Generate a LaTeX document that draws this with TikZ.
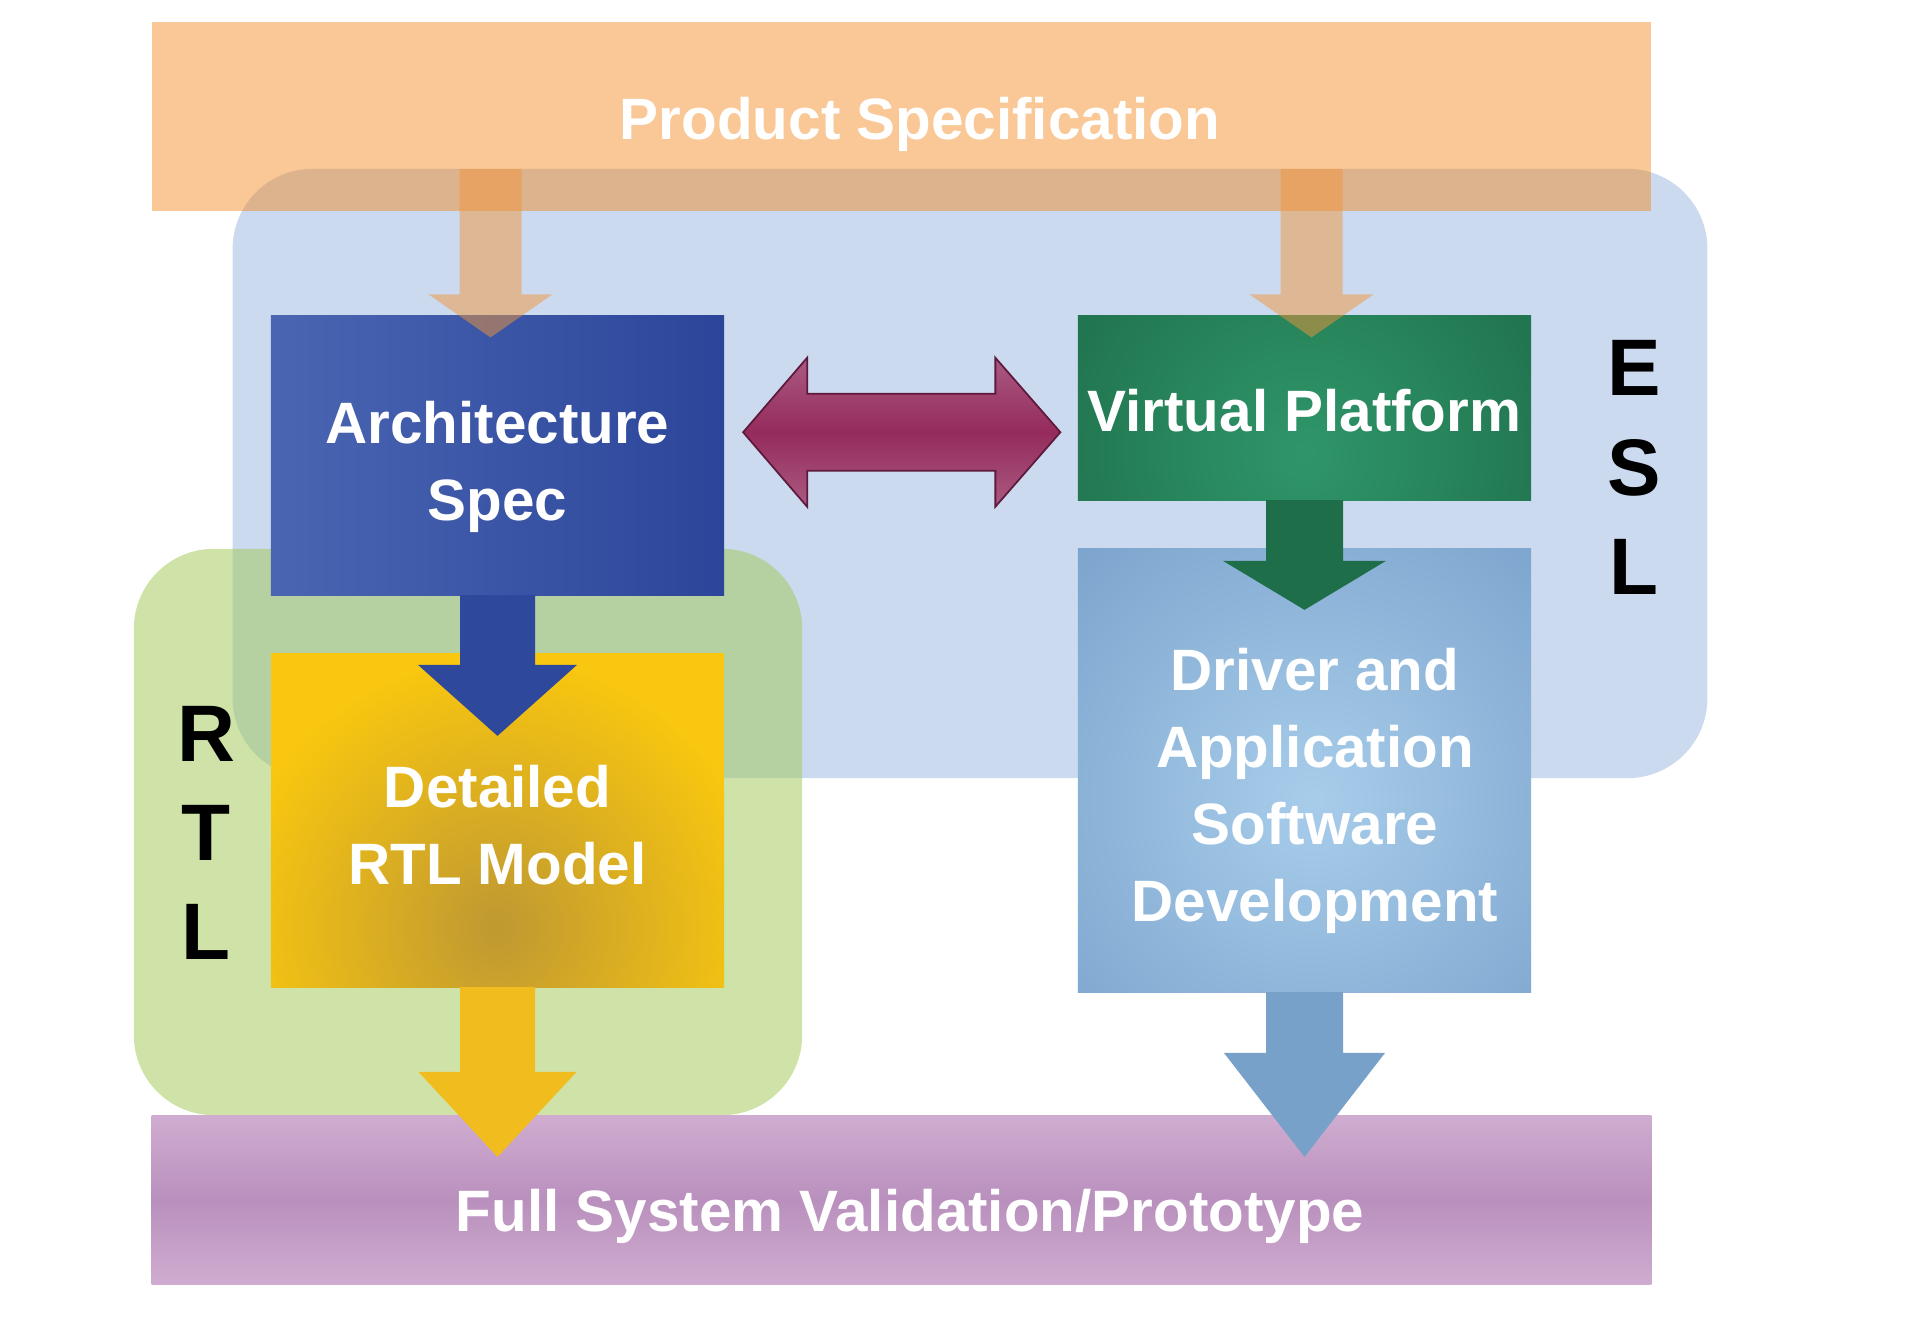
\documentclass[tikz,border=0pt]{standalone}
\usepackage{fontspec}
\setmainfont{Liberation Sans}
\usetikzlibrary{calc,positioning}

\definecolor{eslblue}{HTML}{CCDAF0}
\definecolor{rtlgreen}{HTML}{A4CA5B}
\definecolor{specorange}{HTML}{F28516}
\definecolor{feedorange}{HTML}{F0953A}
\definecolor{archlight}{HTML}{4A66B2}
\definecolor{archdark}{HTML}{2C459A}
\definecolor{archarrow}{HTML}{2E489C}
\definecolor{rtlyellow}{HTML}{F9C70F}
\definecolor{rtldark}{HTML}{BF9832}
\definecolor{rtlarrow}{HTML}{F1BD1E}
\definecolor{vpgreen}{HTML}{1C6A47}
\definecolor{vplight}{HTML}{2F9669}
\definecolor{vparrow}{HTML}{1E6F49}
\definecolor{swblue}{HTML}{739BC6}
\definecolor{swlight}{HTML}{A8CDEB}
\definecolor{swarrow}{HTML}{78A1CA}
\definecolor{linklight}{HTML}{AA5A82}
\definecolor{linkdark}{HTML}{952B5C}
\definecolor{linkedge}{HTML}{5E1A3D}
\definecolor{vallight}{HTML}{CFACD0}
\definecolor{valdark}{HTML}{B990BD}

% down block arrow: style, from, tip, shaft half width, head half width, head length
\newcommand{\downblock}[6]{%
  \fill[#1] ($(#2)+(-#4,0)$) -- ($(#2)+(#4,0)$) -- ($(#3)+(#4,-#6)$) -- ($(#3)+(#5,-#6)$)
    -- (#3) -- ($(#3)+(-#5,-#6)$) -- ($(#3)+(-#4,-#6)$) -- cycle;}

\begin{document}
\begin{tikzpicture}[x=0.01cm, y=-0.01cm,
    every node/.style={inner sep=0pt, outer sep=0pt},
    region/.style={rounded corners=0.8cm},
    bar/.style={minimum width=14.99cm},
    block/.style={minimum width=4.53cm},
    boxtext/.style={text=white, font=\fontsize{16.6pt}{21.9pt}\selectfont\bfseries, align=center},
    sidetext/.style={font=\fontsize{22.8pt}{28.2pt}\selectfont\bfseries, align=center}]

    \useasboundingbox (0,0) rectangle (1920,1328);

    % regions
    \node[region, fill=eslblue, minimum width=14.74cm, minimum height=6.09cm] (esl) at (970,473.5) {};
    \node[region, fill=rtlgreen, fill opacity=0.53, minimum width=6.68cm, minimum height=5.66cm] (rtl) at (468,832) {};

    % bars
    \node[bar, fill=specorange, fill opacity=0.45, minimum height=1.89cm] (prod) at (901.5,116.5) {};
    \node[bar, top color=vallight, bottom color=vallight, middle color=valdark, minimum height=1.68cm] (full) at (901.5,1200) {};

    % blocks
    \node[block, minimum height=2.795cm, left color=archlight, right color=archdark] (arch) at (497.5,455.25) {};
    \node[block, minimum height=3.34cm, fill=rtlyellow,
        path picture={\shade[inner color=rtldark, outer color=rtlyellow] ($(path picture bounding box.center)+(0,112)$) circle (2.7cm);}] (rtlm) at (497.5,820) {};
    \node[block, minimum height=1.845cm, fill=vpgreen,
        path picture={\shade[inner color=vplight, outer color=vpgreen] ($(path picture bounding box.center)+(0,45)$) circle (3.4cm);}] (vp) at (1304.5,407.75) {};
    \node[block, minimum height=4.435cm, fill=swblue,
        path picture={\shade[inner color=swlight, outer color=swblue] ($(path picture bounding box.center)+(8,30)$) circle (4.2cm);}] (drv) at (1304.5,770.25) {};

    \coordinate (specL) at ($(esl.north -| arch.north)+(-7,0)$);
    \coordinate (specLtip) at ($(arch.north)+(-7,22)$);
    \coordinate (specR) at ($(esl.north -| vp.north)+(7,0)$);
    \coordinate (specRtip) at ($(vp.north)+(7,22)$);
    \coordinate (archtip) at ($(rtlm.north)+(0,83)$);
    \coordinate (vptip) at ($(drv.north)+(0,61.5)$);
    \coordinate (rtltip) at ($(full.north -| rtlm.south)+(0,41)$);
    \coordinate (swtip) at ($(full.north -| drv.south)+(0,41)$);

    \downblock{feedorange, fill opacity=0.5}{specL}{specLtip}{31}{62}{43}
    \downblock{feedorange, fill opacity=0.5}{specR}{specRtip}{31}{62}{43}
    \downblock{archarrow}{arch.south}{archtip}{37.5}{79.5}{71}
    \downblock{vparrow}{vp.south}{vptip}{38.5}{81.5}{49}
    \downblock{rtlarrow}{rtlm.south}{rtltip}{37.5}{79}{85}
    \downblock{swarrow}{drv.south}{swtip}{38.5}{80.5}{104}

    % two way link
    \coordinate (linkL) at ($(arch.east)+(19,-23)$);
    \coordinate (linkR) at ($(vp.west)+(-17.5,24.5)$);
    \shadedraw[top color=linklight, bottom color=linklight, middle color=linkdark, draw=linkedge, line width=0.5pt]
        (linkL) -- ++(64,-74.5) -- ++(0,36) -- ($(linkR)+(-65,-38.5)$) -- ++(0,-36) -- (linkR)
        -- ++(-65,74.5) -- ++(0,-36) -- ($(linkL)+(64,38.5)$) -- ++(0,36) -- cycle;

    % texts
    \node[boxtext, anchor=base] (prodtxt) at ($(prod.center)+(18.5,23.5)$) {Product Specification};
    \node[boxtext, anchor=base] (fulltxt) at ($(full.center)+(8.5,31.5)$) {Full System Validation/Prototype};
    \node[boxtext] (archtxt) at ($(arch.center)+(0,12)$) {Architecture\\Spec};
    \node[boxtext] (rtltxt) at ($(rtlm.center)+(0,5.5)$) {Detailed\\RTL Model};
    \node[boxtext] (vptxt) at ($(vp.center)+(0,3)$) {Virtual Platform};
    \node[boxtext] (swtxt) at ($(drv.center)+(10.5,21)$) {Driver and\\Application\\Software\\Development};

    \node[sidetext] (esllbl) at (1634,467.5) {E\\S\\L};
    \node[sidetext] (rtllbl) at (206,833) {R\\T\\L};
\end{tikzpicture}
\end{document}
